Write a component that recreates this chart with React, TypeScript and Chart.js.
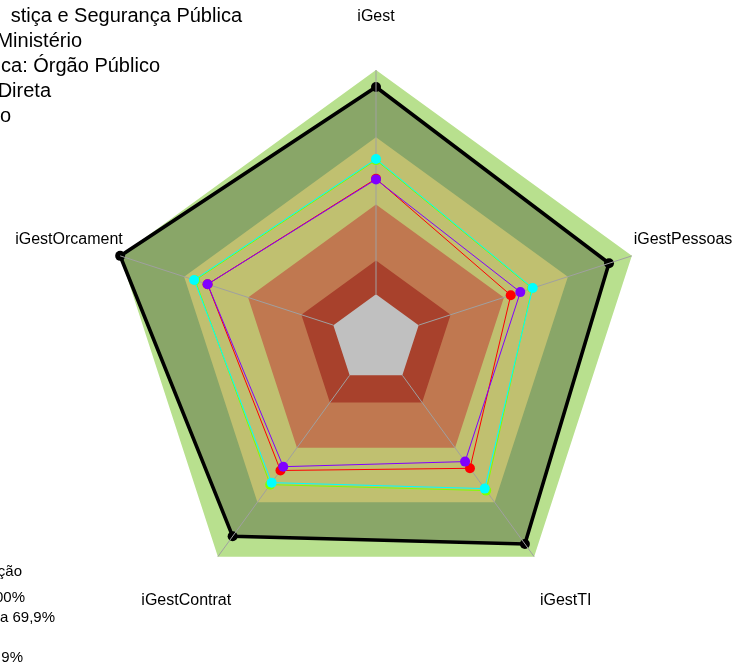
import React, { useEffect, useRef } from "react";
import { Chart, registerables } from "chart.js";

Chart.register(...registerables);

const axisLabels = ["iGest", "iGestPessoas", "iGestTI", "iGestContrat", "iGestOrcament"];

const seriesBlack = [92.4, 89.3, 93.0, 88.8, 100];
const seriesRed = [51.5, 43.2, 51.3, 52.5, 59.0];
const seriesLime = [59.8, 53.2, 63.6, 60.3, 64.8];
const seriesCyan = [60.3, 53.5, 62.5, 59.2, 65.3];
const seriesViolet = [51.2, 47.7, 47.6, 50.4, 59.0];

// band upper limits (% scale), inner hole below 0
const bandOuter = 100;
const bandKhaki = 70;
const bandOrange = 40;
const bandRed = 15;
const bandHole = 0;

const titleLines = ["stiça e Segurança Pública", "Ministério", "ca: Órgão Público", "Direta", "o"];
const legendLines = ["ção", "00%", "a 69,9%", "", "9%"];

const SCALE_MIN = -20;
const SCALE_MAX = 100;
const LABEL_VALUE = 124; // 1.2 x radius

const FONT = '"Liberation Sans", Arial, sans-serif';

const fill5 = (v: number) => axisLabels.map(() => v);

export default function App() {
  const ref = useRef<HTMLCanvasElement | null>(null);

  useEffect(() => {
    if (!ref.current) return;
    const HOLE_INDEX = 5;

    const spokesPlugin = {
      id: "spokes",
      afterDatasetDraw(chart: any, args: any) {
        if (args.index !== HOLE_INDEX) return;
        const scale = chart.scales.r;
        const ctx = chart.ctx;
        ctx.save();
        ctx.strokeStyle = "#a0a0a0";
        ctx.lineWidth = 1;
        for (let i = 0; i < axisLabels.length; i++) {
          const a = scale.getPointPositionForValue(i, bandHole);
          const b = scale.getPointPositionForValue(i, bandOuter);
          ctx.beginPath();
          ctx.moveTo(a.x, a.y);
          ctx.lineTo(b.x, b.y);
          ctx.stroke();
        }
        ctx.restore();
      },
    };

    const textPlugin = {
      id: "texts",
      afterDraw(chart: any) {
        const scale = chart.scales.r;
        const ctx = chart.ctx;
        ctx.save();
        ctx.fillStyle = "#000";
        ctx.font = `16px ${FONT}`;
        ctx.textAlign = "center";
        ctx.textBaseline = "middle";
        axisLabels.forEach((lab, i) => {
          const p = scale.getPointPositionForValue(i, LABEL_VALUE);
          ctx.fillText(lab, p.x, p.y);
        });
        // title block (cut at left edge)
        ctx.font = `20px ${FONT}`;
        ctx.textAlign = "right";
        ctx.textBaseline = "alphabetic";
        const titleRight = [242, 82, 160, 51, 11];
        titleLines.forEach((t, i) => {
          ctx.fillText(t, titleRight[i], 22 + i * 25);
        });
        // legend block (cut at left edge)
        ctx.font = `15px ${FONT}`;
        const legRight = [22, 25, 55, 0, 23];
        const legBase = [576, 602, 622, 642, 662];
        legendLines.forEach((t, i) => {
          if (t) ctx.fillText(t, legRight[i], legBase[i]);
        });
        ctx.restore();
      },
    };

    const band = (v: number, color: string, order: number) => ({
      data: fill5(v),
      backgroundColor: color,
      borderWidth: 0,
      borderColor: "rgba(0,0,0,0)",
      pointRadius: 0,
      fill: "start",
      order,
    });

    const series = (d: number[], color: string, order: number) => ({
      data: d,
      borderColor: color,
      backgroundColor: color,
      pointBackgroundColor: color,
      pointBorderWidth: 0,
      pointRadius: 5,
      borderWidth: 1,
      fill: false,
      order,
    });

    const chart = new Chart(ref.current, {
      type: "radar",
      data: {
        labels: axisLabels,
        datasets: [
          band(bandOuter, "#b8e08e", 20),
          {
            data: seriesBlack,
            borderColor: "#000",
            backgroundColor: "#89a668",
            pointBackgroundColor: "#000",
            pointBorderWidth: 0,
            pointRadius: 5,
            borderWidth: 3.6,
            fill: "start",
            order: 19,
          },
          band(bandKhaki, "#c0c070", 18),
          band(bandOrange, "#c07850", 17),
          band(bandRed, "#a8412c", 16),
          band(bandHole, "#c0c0c0", 15),
          series(seriesRed, "#ff0000", 4),
          series(seriesLime, "#80ff00", 3),
          series(seriesCyan, "#00ffff", 2),
          series(seriesViolet, "#8000ff", 1),
        ] as any,
      },
      options: {
        animation: false,
        responsive: false,
        layout: { padding: { left: 107, top: 70, right: 89, bottom: 57 } },
        plugins: {
          legend: { display: false },
          tooltip: { enabled: false },
          title: { display: false },
        },
        elements: { line: { tension: 0 } },
        scales: {
          r: {
            min: SCALE_MIN,
            max: SCALE_MAX,
            ticks: { display: false, stepSize: 20 },
            grid: { display: false },
            angleLines: { display: false },
            pointLabels: { display: false },
          },
        },
      } as any,
      plugins: [spokesPlugin, textPlugin],
    });
    return () => chart.destroy();
  }, []);

  return (
    <div style={{ position: "fixed", left: 0, top: 0, width: 734, height: 665, background: "#fff" }}>
      <canvas ref={ref} width={734} height={665} style={{ display: "block" }} />
    </div>
  );
}
